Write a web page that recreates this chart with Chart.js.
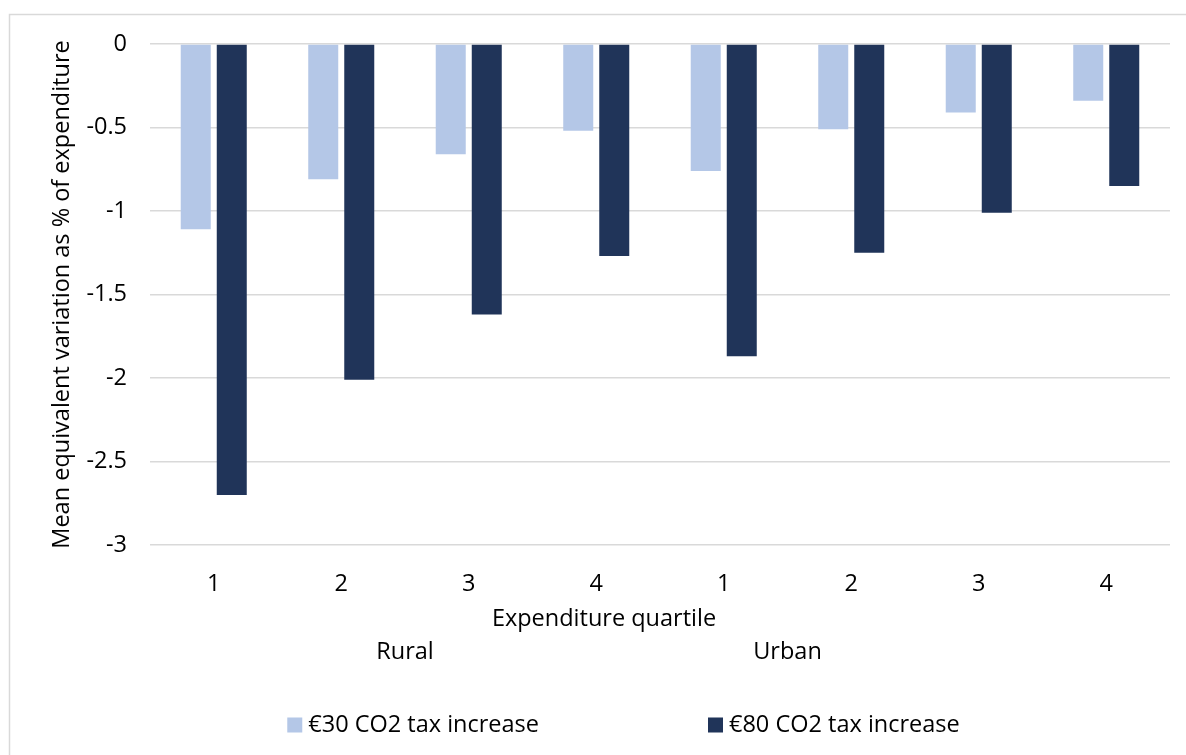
<!DOCTYPE html>
<html>
<head>
<meta charset="utf-8">
<script src="https://cdn.jsdelivr.net/npm/chart.js@4.4.0/dist/chart.umd.min.js"></script>
<style>
  html, body { margin: 0; padding: 0; background: #fff; }
  #wrap { width: 1186px; height: 755px; position: relative; }
</style>
</head>
<body>
<div id="wrap"><canvas id="evChart"></canvas></div>
<script>
const quartiles = ['1', '2', '3', '4', '1', '2', '3', '4'];
const groups = ['Rural', 'Urban'];
const tax30 = [-1.11, -0.81, -0.66, -0.52, -0.76, -0.51, -0.41, -0.34];
const tax80 = [-2.70, -2.01, -1.62, -1.27, -1.87, -1.25, -1.01, -0.85];
const xTitle = 'Expenditure quartile';

const FONT = 'Open Sans';
const SIZE = 23.5;
const TXT = '#000000';

const frame = {
  id: 'frame',
  beforeDraw(chart) {
    const c = chart.ctx;
    c.save();
    c.strokeStyle = '#d9d9d9';
    c.lineWidth = 1.5;
    c.strokeRect(9.5, 14.5, chart.width + 20, chart.height + 20);
    c.restore();
  }
};

// axis title + group labels (Excel multi-level axis, title sits off-centre)
const groupLabels = {
  id: 'groupLabels',
  afterDraw(chart) {
    const x = chart.scales.x;
    const c = chart.ctx;
    c.save();
    c.font = SIZE + 'px ' + FONT;
    c.fillStyle = TXT;
    c.textAlign = 'center';
    c.textBaseline = 'middle';
    c.fillText(xTitle, chart.chartArea.left + 454, 619);
    c.fillText(groups[0], x.getPixelForValue(1.5), 652);
    c.fillText(groups[1], x.getPixelForValue(4.5), 652);
    c.restore();
  }
};

// legend drawn by hand to get the wide gap between the two entries
const wideLegend = {
  id: 'wideLegend',
  afterDraw(chart) {
    const c = chart.ctx;
    const ds = chart.data.datasets;
    const box = 15, gapText = 6, gapItem = 169, y = 725;
    c.save();
    c.font = SIZE + 'px ' + FONT;
    const widths = ds.map(d => c.measureText(d.label).width);
    const total = ds.length * (box + gapText) + widths.reduce((a, b) => a + b, 0) + gapItem * (ds.length - 1);
    let x = 623.5 - total / 2;
    c.textBaseline = 'middle';
    c.textAlign = 'left';
    ds.forEach((d, i) => {
      c.fillStyle = d.backgroundColor;
      c.fillRect(x, y - box / 2, box, box);
      x += box + gapText;
      c.fillStyle = TXT;
      c.fillText(d.label, x, y);
      x += widths[i] + gapItem;
    });
    c.restore();
  }
};

new Chart(document.getElementById('evChart'), {
  type: 'bar',
  data: {
    labels: quartiles,
    datasets: [{
      label: '€30 CO2 tax increase',
      data: tax30,
      backgroundColor: '#b4c7e7',
      categoryPercentage: 0.565,
      barPercentage: 0.833
    }, {
      label: '€80 CO2 tax increase',
      data: tax80,
      backgroundColor: '#203459',
      categoryPercentage: 0.565,
      barPercentage: 0.833
    }]
  },
  options: {
    responsive: true,
    maintainAspectRatio: false,
    animation: false,
    layout: { padding: { top: 44, right: 16, left: 48, bottom: 122 } },
    scales: {
      x: {
        grid: { display: false },
        border: { display: false },
        ticks: { color: TXT, font: { family: FONT, size: SIZE }, padding: 17 },
        afterFit(s) { s.height = 88; }
      },
      y: {
        min: -3,
        max: 0,
        ticks: { stepSize: 0.5, color: TXT, font: { family: FONT, size: SIZE }, padding: 23, callback: v => String(v) },
        grid: { color: '#d9d9d9', lineWidth: 1.5, drawTicks: false },
        border: { display: false },
        title: { display: true, text: 'Mean equivalent variation as % of expenditure', color: TXT, font: { family: FONT, size: SIZE }, padding: 0 },
        afterFit(s) { s.width = 102; }
      }
    },
    plugins: {
      tooltip: { enabled: false },
      legend: { display: false }
    }
  },
  plugins: [frame, groupLabels, wideLegend]
});
</script>
</body>
</html>
